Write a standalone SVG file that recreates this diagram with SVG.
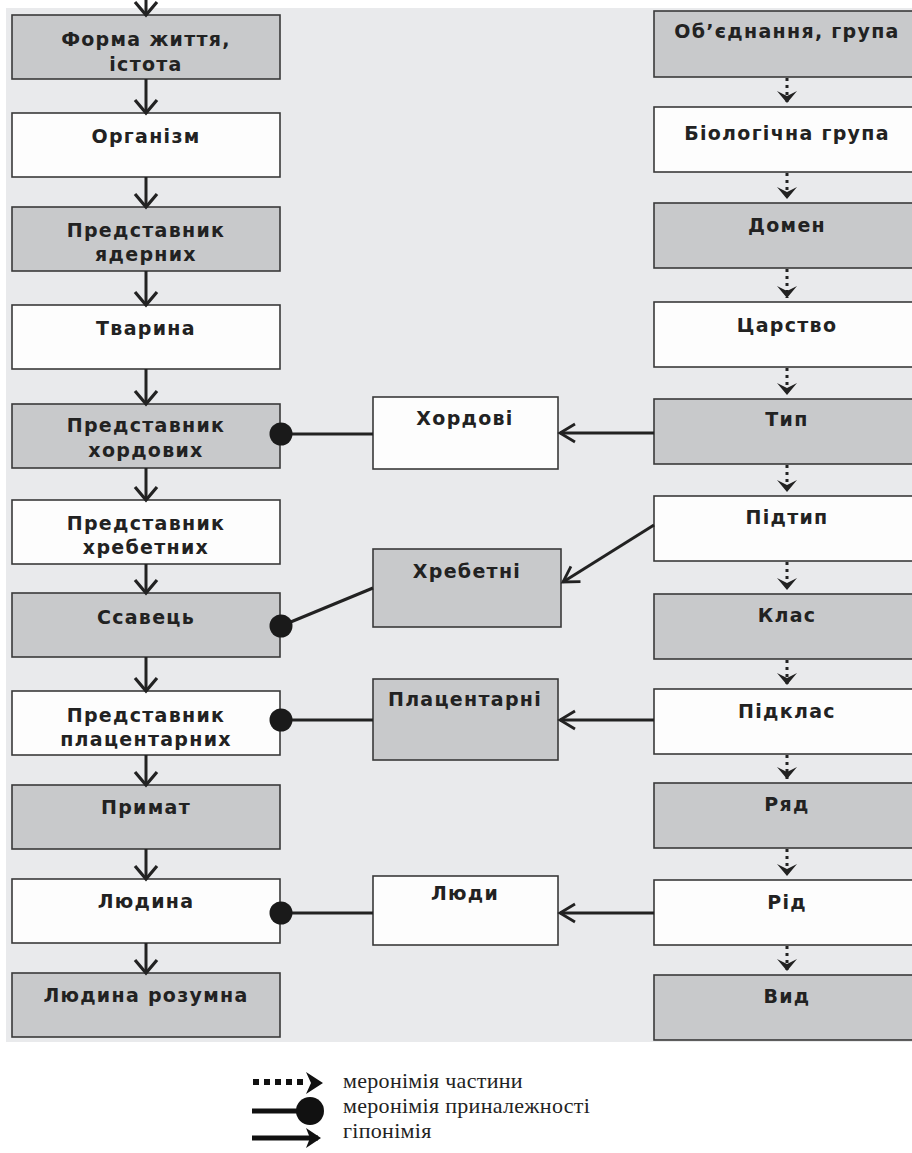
<svg xmlns="http://www.w3.org/2000/svg" width="912" height="1153" viewBox="0 0 912 1153">
<style>
.bg{fill:#e9eaec}
.g{fill:#c8c9cb;stroke:#3a3a3a;stroke-width:1.6}
.w{fill:#fdfdfd;stroke:#3a3a3a;stroke-width:1.6}
.t{font-family:"DejaVu Sans","Verdana",sans-serif;font-weight:bold;font-size:19px;letter-spacing:1.3px;fill:#222;text-anchor:middle}
.lg{font-family:"Liberation Serif","Times New Roman",serif;font-size:22px;letter-spacing:0.3px;fill:#222}
.hy{stroke:#222;stroke-width:3;fill:none}
.dn{stroke:#222;stroke-width:3;fill:none}
.dt{stroke:#222;stroke-width:3;fill:none;stroke-dasharray:3 4}
</style>
<defs>
<marker id="ah" markerUnits="userSpaceOnUse" viewBox="-18 -12 20 24" refX="0" refY="0" markerWidth="20" markerHeight="24" orient="auto" overflow="visible">
<path d="M-15,-9 L0,0 L-15,9" fill="none" stroke="#222" stroke-width="2.8"/>
</marker>
<marker id="ad" markerUnits="userSpaceOnUse" viewBox="-18 -14 20 28" refX="0" refY="0" markerWidth="20" markerHeight="28" orient="auto" overflow="visible">
<path d="M-13,-11 L0,0 L-13,11" fill="none" stroke="#222" stroke-width="3.2"/>
</marker>
<marker id="am" markerUnits="userSpaceOnUse" viewBox="-16 -12 18 24" refX="0" refY="0" markerWidth="18" markerHeight="24" orient="auto" overflow="visible">
<path d="M-12,-10 L0,0 L-12,10 L-7,0 Z" fill="#222"/>
</marker>
</defs>
<rect x="0" y="0" width="912" height="1153" fill="#ffffff"/>
<rect class="bg" x="6" y="8" width="906" height="1034"/>

<g id="n-forma"><rect class="g" x="12" y="15" width="268" height="64"/><text class="t" x="146" y="46">Форма життя,</text><text class="t" x="146" y="71">істота</text></g>
<g id="n-organizm"><rect class="w" x="12" y="113" width="268" height="64"/><text class="t" x="146" y="143">Організм</text></g>
<g id="n-yadernykh"><rect class="g" x="12" y="207" width="268" height="64"/><text class="t" x="146" y="237">Представник</text><text class="t" x="146" y="261">ядерних</text></g>
<g id="n-tvaryna"><rect class="w" x="12" y="305" width="268" height="64"/><text class="t" x="146" y="335">Тварина</text></g>
<g id="n-khordovykh"><rect class="g" x="12" y="404" width="268" height="64"/><text class="t" x="146" y="432">Представник</text><text class="t" x="146" y="457">хордових</text></g>
<g id="n-khrebetnykh"><rect class="w" x="12" y="500" width="268" height="64"/><text class="t" x="146" y="530">Представник</text><text class="t" x="146" y="554">хребетних</text></g>
<g id="n-ssavets"><rect class="g" x="12" y="593" width="268" height="64"/><text class="t" x="146" y="624">Ссавець</text></g>
<g id="n-platsentarnykh"><rect class="w" x="12" y="691" width="268" height="64"/><text class="t" x="146" y="722">Представник</text><text class="t" x="146" y="746">плацентарних</text></g>
<g id="n-prymat"><rect class="g" x="12" y="785" width="268" height="64"/><text class="t" x="146" y="814">Примат</text></g>
<g id="n-lyudyna"><rect class="w" x="12" y="879" width="268" height="64"/><text class="t" x="146" y="908">Людина</text></g>
<g id="n-lyudyna-rozumna"><rect class="g" x="12" y="973" width="268" height="64"/><text class="t" x="146" y="1002">Людина розумна</text></g>

<g id="n-khordovi"><rect class="w" x="373" y="397" width="185" height="72"/><text class="t" x="465" y="425">Хордові</text></g>
<g id="n-khrebetni"><rect class="g" x="373" y="549" width="188" height="78"/><text class="t" x="467" y="578">Хребетні</text></g>
<g id="n-platsentarni"><rect class="g" x="373" y="679" width="185" height="81"/><text class="t" x="465" y="706">Плацентарні</text></g>
<g id="n-lyudy"><rect class="w" x="373" y="876" width="185" height="69"/><text class="t" x="465" y="900">Люди</text></g>

<g id="n-obyednannya"><rect class="g" x="654" y="11" width="270" height="66"/><text class="t" x="787" y="38">Об’єднання, група</text></g>
<g id="n-biol-hrupa"><rect class="w" x="654" y="107" width="270" height="65"/><text class="t" x="787" y="140">Біологічна група</text></g>
<g id="n-domen"><rect class="g" x="654" y="203" width="270" height="65"/><text class="t" x="787" y="232">Домен</text></g>
<g id="n-tsarstvo"><rect class="w" x="654" y="302" width="270" height="65"/><text class="t" x="787" y="332">Царство</text></g>
<g id="n-typ"><rect class="g" x="654" y="399" width="270" height="65"/><text class="t" x="787" y="426">Тип</text></g>
<g id="n-pidtyp"><rect class="w" x="654" y="496" width="270" height="65"/><text class="t" x="787" y="524">Підтип</text></g>
<g id="n-klas"><rect class="g" x="654" y="594" width="270" height="65"/><text class="t" x="787" y="622">Клас</text></g>
<g id="n-pidklas"><rect class="w" x="654" y="689" width="270" height="65"/><text class="t" x="787" y="718">Підклас</text></g>
<g id="n-ryad"><rect class="g" x="654" y="783" width="270" height="65"/><text class="t" x="787" y="811">Ряд</text></g>
<g id="n-rid"><rect class="w" x="654" y="880" width="270" height="65"/><text class="t" x="787" y="909">Рід</text></g>
<g id="n-vyd"><rect class="g" x="654" y="975" width="270" height="65"/><text class="t" x="787" y="1003">Вид</text></g>

<g id="connectors">
<line class="dn" x1="146" y1="-12" x2="146" y2="15" marker-end="url(#ad)"/>
<line class="dn" x1="146" y1="79" x2="146" y2="113" marker-end="url(#ad)"/>
<line class="dn" x1="146" y1="177" x2="146" y2="207" marker-end="url(#ad)"/>
<line class="dn" x1="146" y1="271" x2="146" y2="305" marker-end="url(#ad)"/>
<line class="dn" x1="146" y1="369" x2="146" y2="404" marker-end="url(#ad)"/>
<line class="dn" x1="146" y1="468" x2="146" y2="500" marker-end="url(#ad)"/>
<line class="dn" x1="146" y1="564" x2="146" y2="593" marker-end="url(#ad)"/>
<line class="dn" x1="146" y1="657" x2="146" y2="691" marker-end="url(#ad)"/>
<line class="dn" x1="146" y1="755" x2="146" y2="785" marker-end="url(#ad)"/>
<line class="dn" x1="146" y1="849" x2="146" y2="879" marker-end="url(#ad)"/>
<line class="dn" x1="146" y1="943" x2="146" y2="973" marker-end="url(#ad)"/>

<line class="dt" x1="787" y1="78" x2="787" y2="103" marker-end="url(#am)"/>
<line class="dt" x1="787" y1="173" x2="787" y2="199" marker-end="url(#am)"/>
<line class="dt" x1="787" y1="269" x2="787" y2="298" marker-end="url(#am)"/>
<line class="dt" x1="787" y1="368" x2="787" y2="395" marker-end="url(#am)"/>
<line class="dt" x1="787" y1="465" x2="787" y2="492" marker-end="url(#am)"/>
<line class="dt" x1="787" y1="562" x2="787" y2="590" marker-end="url(#am)"/>
<line class="dt" x1="787" y1="660" x2="787" y2="685" marker-end="url(#am)"/>
<line class="dt" x1="787" y1="755" x2="787" y2="779" marker-end="url(#am)"/>
<line class="dt" x1="787" y1="849" x2="787" y2="876" marker-end="url(#am)"/>
<line class="dt" x1="787" y1="946" x2="787" y2="971" marker-end="url(#am)"/>

<line class="hy" x1="654" y1="433" x2="560" y2="433" marker-end="url(#ah)"/>
<line class="hy" x1="654" y1="525" x2="563" y2="582" marker-end="url(#ah)"/>
<line class="hy" x1="654" y1="720" x2="560" y2="720" marker-end="url(#ah)"/>
<line class="hy" x1="654" y1="913" x2="560" y2="913" marker-end="url(#ah)"/>

<line class="hy" x1="373" y1="434" x2="281" y2="434"/>
<line class="hy" x1="373" y1="588" x2="281" y2="626"/>
<line class="hy" x1="373" y1="720" x2="281" y2="720"/>
<line class="hy" x1="373" y1="913" x2="281" y2="913"/>
<circle cx="281" cy="434" r="11.5" fill="#1a1a1a"/>
<circle cx="281" cy="626" r="11.5" fill="#1a1a1a"/>
<circle cx="281" cy="720" r="11.5" fill="#1a1a1a"/>
<circle cx="281" cy="913" r="11.5" fill="#1a1a1a"/>
</g>

<g id="legend">
<rect x="253" y="1079" width="6" height="6" fill="#111"/>
<rect x="264" y="1079" width="6" height="6" fill="#111"/>
<rect x="275" y="1079" width="6" height="6" fill="#111"/>
<rect x="286" y="1079" width="6" height="6" fill="#111"/>
<rect x="297" y="1079" width="6" height="6" fill="#111"/>
<path d="M306,1072 L323,1083 L306,1094 L311,1083 Z" fill="#111"/>
<line x1="252" y1="1111" x2="305" y2="1111" stroke="#111" stroke-width="5"/>
<circle cx="310" cy="1111" r="14" fill="#111"/>
<line x1="252" y1="1138" x2="318" y2="1138" stroke="#111" stroke-width="5"/>
<path d="M306,1128 L321,1138 L306,1148 L310,1138 Z" fill="#111"/>
<text class="lg" x="343" y="1088">меронімія частини</text>
<text class="lg" x="343" y="1113">меронімія приналежності</text>
<text class="lg" x="343" y="1138">гіпонімія</text>
</g>
</svg>
